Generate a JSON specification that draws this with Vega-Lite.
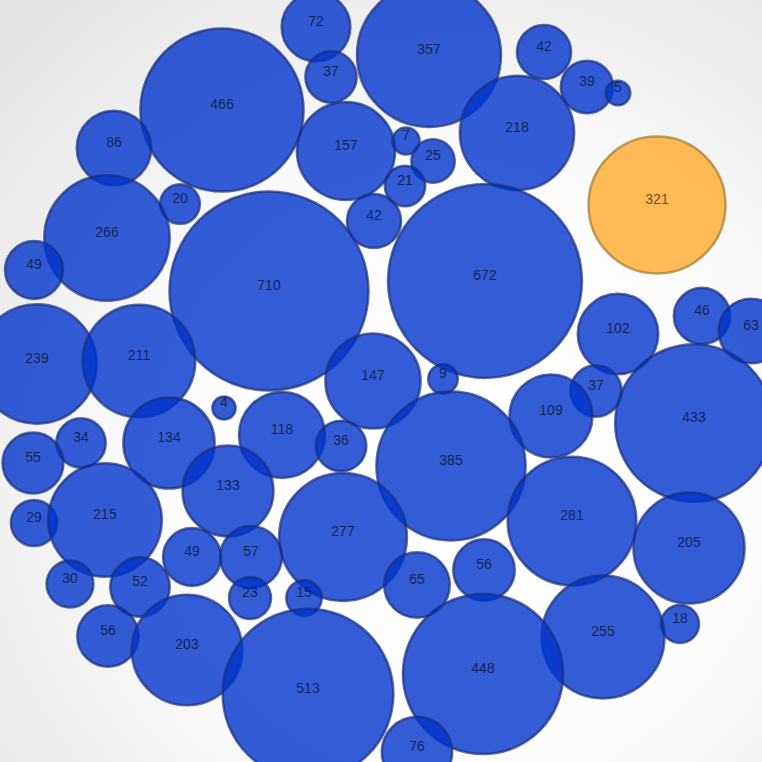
{
  "$schema": "https://vega.github.io/schema/vega-lite/v6.json",
  "width": 762,
  "height": 762,
  "autosize": {"type": "none"},
  "padding": 0,
  "background": "#ffffff",
  "config": {"view": {"stroke": null}},
  "data": {"values": [
    {"x": 316, "y": 27, "v": 72, "g": "a"},
    {"x": 429, "y": 55, "v": 357, "g": "a"},
    {"x": 544, "y": 52, "v": 42, "g": "a"},
    {"x": 587, "y": 87, "v": 39, "g": "a"},
    {"x": 618, "y": 93, "v": 5, "g": "a"},
    {"x": 331, "y": 77, "v": 37, "g": "a"},
    {"x": 222, "y": 110, "v": 466, "g": "a"},
    {"x": 346, "y": 151, "v": 157, "g": "a"},
    {"x": 406, "y": 141, "v": 7, "g": "a"},
    {"x": 433, "y": 161, "v": 25, "g": "a"},
    {"x": 405, "y": 186, "v": 21, "g": "a"},
    {"x": 517, "y": 133, "v": 218, "g": "a"},
    {"x": 114, "y": 148, "v": 86, "g": "a"},
    {"x": 657, "y": 205, "v": 321, "g": "b"},
    {"x": 180, "y": 204, "v": 20, "g": "a"},
    {"x": 374, "y": 221, "v": 42, "g": "a"},
    {"x": 107, "y": 238, "v": 266, "g": "a"},
    {"x": 34, "y": 270, "v": 49, "g": "a"},
    {"x": 269, "y": 291, "v": 710, "g": "a"},
    {"x": 485, "y": 281, "v": 672, "g": "a"},
    {"x": 618, "y": 334, "v": 102, "g": "a"},
    {"x": 702, "y": 316, "v": 46, "g": "a"},
    {"x": 751, "y": 331, "v": 63, "g": "a"},
    {"x": 37, "y": 364, "v": 239, "g": "a"},
    {"x": 139, "y": 361, "v": 211, "g": "a"},
    {"x": 373, "y": 381, "v": 147, "g": "a"},
    {"x": 443, "y": 379, "v": 9, "g": "a"},
    {"x": 596, "y": 391, "v": 37, "g": "a"},
    {"x": 551, "y": 416, "v": 109, "g": "a"},
    {"x": 694, "y": 423, "v": 433, "g": "a"},
    {"x": 224, "y": 408, "v": 4, "g": "a"},
    {"x": 169, "y": 443, "v": 134, "g": "a"},
    {"x": 81, "y": 443, "v": 34, "g": "a"},
    {"x": 33, "y": 463, "v": 55, "g": "a"},
    {"x": 282, "y": 435, "v": 118, "g": "a"},
    {"x": 341, "y": 446, "v": 36, "g": "a"},
    {"x": 451, "y": 466, "v": 385, "g": "a"},
    {"x": 228, "y": 491, "v": 133, "g": "a"},
    {"x": 572, "y": 521, "v": 281, "g": "a"},
    {"x": 689, "y": 548, "v": 205, "g": "a"},
    {"x": 34, "y": 523, "v": 29, "g": "a"},
    {"x": 105, "y": 520, "v": 215, "g": "a"},
    {"x": 343, "y": 537, "v": 277, "g": "a"},
    {"x": 192, "y": 557, "v": 49, "g": "a"},
    {"x": 251, "y": 557, "v": 57, "g": "a"},
    {"x": 484, "y": 570, "v": 56, "g": "a"},
    {"x": 417, "y": 585, "v": 65, "g": "a"},
    {"x": 70, "y": 584, "v": 30, "g": "a"},
    {"x": 140, "y": 587, "v": 52, "g": "a"},
    {"x": 250, "y": 598, "v": 23, "g": "a"},
    {"x": 304, "y": 598, "v": 15, "g": "a"},
    {"x": 680, "y": 624, "v": 18, "g": "a"},
    {"x": 603, "y": 637, "v": 255, "g": "a"},
    {"x": 108, "y": 636, "v": 56, "g": "a"},
    {"x": 187, "y": 650, "v": 203, "g": "a"},
    {"x": 308, "y": 694, "v": 513, "g": "a"},
    {"x": 483, "y": 674, "v": 448, "g": "a"},
    {"x": 417, "y": 752, "v": 76, "g": "a"}
  ]},
  "encoding": {
    "x": {"field": "x", "type": "quantitative", "scale": {"domain": [0, 762], "nice": false, "zero": false}, "axis": null},
    "y": {"field": "y", "type": "quantitative", "scale": {"domain": [762, 0], "nice": false, "zero": false}, "axis": null}
  },
  "layer": [
    {
      "data": {"values": [{}]},
      "mark": {"type": "rect", "fill": {"gradient": "radial", "x1": 0.6, "y1": 0.62, "r1": 0, "x2": 0.6, "y2": 0.62, "r2": 0.8, "stops": [{"offset": 0, "color": "#ffffff"}, {"offset": 0.5, "color": "#fcfcfc"}, {"offset": 1, "color": "#e4e4e4"}]}},
      "encoding": {"x": {"value": 0}, "x2": {"value": 762}, "y": {"value": 0}, "y2": {"value": 762}}
    },
    {
      "mark": {"type": "circle", "opacity": 1, "fillOpacity": 0.8, "strokeWidth": 2.5, "strokeOpacity": 0.7},
      "encoding": {
        "size": {"field": "v", "type": "quantitative", "scale": {"type": "pow", "exponent": 0.95, "domain": [0, 710], "range": [250, 39600]}, "legend": null},
        "fill": {"field": "g", "type": "nominal", "scale": {"domain": ["a", "b"], "range": ["#0033cc", "#ffaa2a"]}, "legend": null},
        "stroke": {"field": "g", "type": "nominal", "scale": {"domain": ["a", "b"], "range": ["#1a2f7a", "#a07a30"]}, "legend": null}
      }
    },
    {
      "mark": {"type": "text", "fontSize": 14, "font": "Liberation Sans", "fill": "#000000", "fillOpacity": 0.62, "align": "center", "baseline": "middle", "dy": -5},
      "encoding": {"text": {"field": "v", "type": "quantitative"}}
    }
  ]
}
